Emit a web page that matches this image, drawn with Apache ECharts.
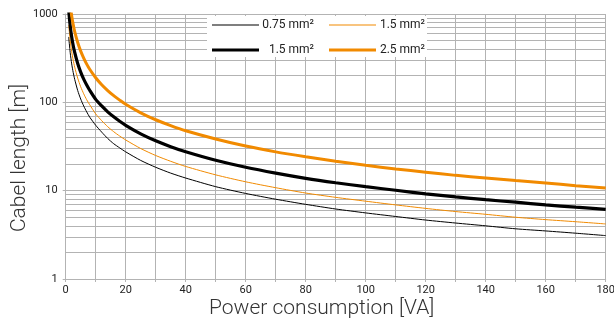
<!DOCTYPE html>
<html>
<head>
<meta charset="utf-8">
<script src="https://cdn.jsdelivr.net/npm/echarts@6/dist/echarts.min.js"></script>
<style>html,body{margin:0;padding:0;background:#fff;}#c{width:614px;height:323px;}</style>
</head>
<body>
<div id="c"></div>
<script>
// Power consumption [VA] sample points
var power = [1,1.5,2,2.5,3,4,5,6,7,8,10,12,14,16,18,20,25,30,35,40,50,60,70,80,90,100,110,120,130,140,150,160,170,180];
// Cable length [m] per series
var thin075 = [550,365,272,218,182,136,109,91,78,68,55,46,39,34,30.5,27.5,22,18.4,15.8,13.9,11.1,9.3,8,7,6.2,5.6,5.1,4.65,4.3,4.0,3.7,3.5,3.3,3.1];
var thin15 = [750,500,375,300,250,188,150,125,107,94,74,62,53,46.5,41.5,37.5,30,25,21.5,18.8,15.1,12.6,10.8,9.4,8.4,7.6,6.9,6.3,5.8,5.4,5.0,4.7,4.45,4.2];
var thick15 = [1100,733,550,440,367,275,220,183,157,137,108,91,78,68.5,61,55,44,36.7,31.5,27.6,22.1,18.4,15.8,13.8,12.3,11.1,10.1,9.2,8.5,7.9,7.4,6.9,6.5,6.15];
var thick25 = [1900,1270,950,760,633,475,380,317,271,237,190,158,136,119,106,95,76,63.5,54.5,47.7,38.5,32,27.5,24.2,21.5,19.4,17.6,16.2,14.9,13.9,13,12.2,11.4,10.7];
var seriesNames = ['0.75 mm² (thin)', '1.5 mm² (thin)', '1.5 mm² (thick)', '2.5 mm² (thick)'];
var legendLabels = ['0.75 mm²', '1.5 mm²', '1.5 mm²', '2.5 mm²'];
var xLabelValues = [0,20,40,60,80,100,120,140,160,180];
var minorGridValues = [2,3,4,5,6,7,8,9,20,30,40,50,60,70,80,90,200,300,400,500,600,700,800,900];

function pairs(ys){ return power.map(function(p,i){ return [p, ys[i]]; }); }
var chart = echarts.init(document.getElementById('c'));
var grid = '#b3b3b3';
var font = 'Roboto, "Noto Sans", sans-serif';
function legendFmt(name){
  var i = seriesNames.indexOf(name);
  return '{' + (i % 2 === 0 ? 'a' : 'b') + '|' + legendLabels[i] + '}';
}
var rich = {
  a: {width: 50, align: 'right', fontSize: 12, fontFamily: font, color: '#222', lineHeight: 12},
  b: {width: 44, align: 'right', fontSize: 12, fontFamily: font, color: '#222', lineHeight: 12}
};
var legendBase = {
  orient: 'horizontal', left: 207, itemWidth: 47, itemGap: 15, icon: 'rect',
  backgroundColor: '#fff', selectedMode: false, formatter: legendFmt,
  textStyle: {rich: rich, fontFamily: font, fontSize: 12, color: '#222'}
};
var cols = ['#000', '#f18a00', '#000', '#f18a00'];
var widths = [1, 1, 3.2, 3];
var datas = [thin075, thin15, thick15, thick25];
var series = datas.map(function(d, i){
  var s = {
    name: seriesNames[i], type: 'line', data: pairs(d), symbol: 'none', showSymbol: false, smooth: 0.25,
    clip: true, lineStyle: {color: cols[i], width: widths[i]}, itemStyle: {color: cols[i]}, z: 3
  };
  if (i === 0) {
    s.markLine = {
      silent: true, symbol: ['none','none'], z: 1, animation: false,
      label: {show: false}, lineStyle: {color: grid, width: 1, type: 'solid'},
      data: minorGridValues.map(function(v){ return {yAxis: v}; })
    };
  }
  return s;
});
chart.setOption({
  animation: false,
  grid: {left: 65.7, right: 8.3, top: 14, bottom: 44, containLabel: false, outerBoundsMode: 'none'},
  legend: [
    Object.assign({}, legendBase, {top: 16, itemHeight: 1, padding: [3,2,7,5], data: [seriesNames[0], seriesNames[1]]}),
    Object.assign({}, legendBase, {top: 38, itemHeight: 3, padding: [6,2,1,5], data: [seriesNames[2], seriesNames[3]]})
  ],
  xAxis: {
    type: 'value', min: 0, max: 180, interval: 10,
    name: 'Power consumption [VA]', nameLocation: 'middle', nameGap: 19, nameMoveOverlap: false,
    nameTextStyle: {fontSize: 21, fontFamily: font, fontWeight: 300, color: '#333', padding: [0, 28, 0, 0]},
    axisLine: {show: true, lineStyle: {color: grid}},
    axisTick: {show: true, length: 3, lineStyle: {color: grid}},
    axisLabel: {fontSize: 11, fontFamily: font, color: '#222', margin: 6,
      formatter: function(v){ return xLabelValues.indexOf(v) >= 0 ? String(v) : ''; }},
    splitLine: {show: true, lineStyle: {color: grid, width: 1}}
  },
  yAxis: {
    type: 'log', logBase: 10, min: 1, max: 1000,
    name: 'Cabel length [m]', nameLocation: 'middle', nameGap: 35, nameMoveOverlap: false,
    nameTextStyle: {fontSize: 21, fontFamily: font, fontWeight: 300, color: '#333', padding: [0, 23, 0, 0]},
    axisLine: {show: true, lineStyle: {color: grid}},
    axisTick: {show: true, length: 3, lineStyle: {color: grid}},
    axisLabel: {fontSize: 11, fontFamily: font, color: '#222', margin: 8,
      formatter: function(v){ return String(Math.round(v)); }},
    splitLine: {show: true, lineStyle: {color: grid, width: 1}}
  },
  series: series
});
</script>
</body>
</html>
